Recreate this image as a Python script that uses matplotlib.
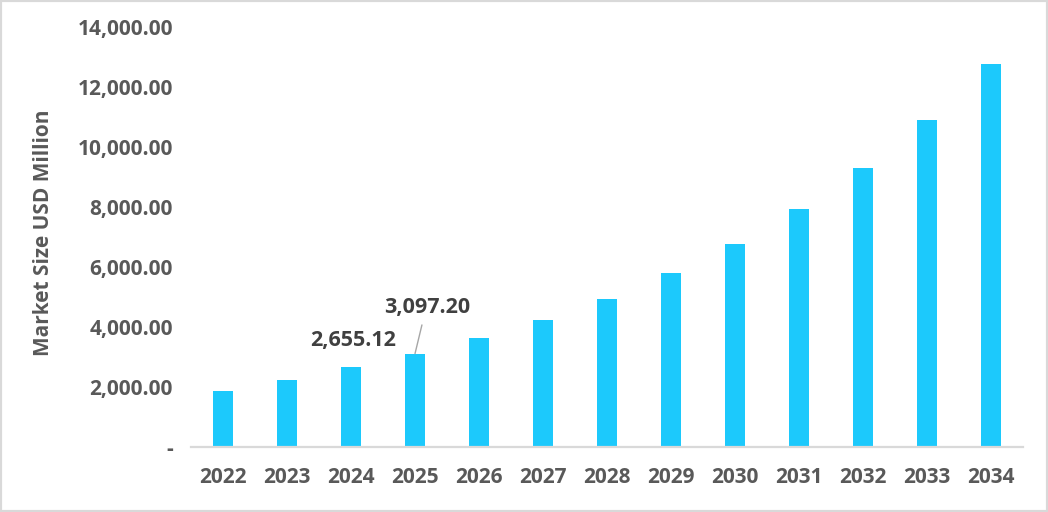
import matplotlib
matplotlib.use('Agg')
import matplotlib.pyplot as plt
from matplotlib.patches import Rectangle
from matplotlib.ticker import FuncFormatter

years = ['2022', '2023', '2024', '2025', '2026', '2027', '2028',
         '2029', '2030', '2031', '2032', '2033', '2034']
market_size = [1867, 2233, 2655.12, 3097.20, 3617, 4217, 4917,
               5783, 6750, 7917, 9283, 10883, 12750]
labeled = {2: '2,655.12', 3: '3,097.20'}   # bar index -> data label

plt.rcParams['font.family'] = ['Open Sans', 'DejaVu Sans']

fig = plt.figure(figsize=(10.48, 5.12), dpi=100)
ax = fig.add_axes([0.1823, 0.1279, 0.7938, 0.8203])

x = range(len(years))
ax.bar(x, market_size, width=0.31, color='#1CC9FC', zorder=2)

ax.set_xlim(-0.5, len(years) - 0.5)
ax.set_ylim(0, 14000)
ax.set_yticks(range(0, 14001, 2000))
ax.yaxis.set_major_formatter(FuncFormatter(lambda v, p: '-' if v == 0 else f'{v:,.2f}'))
ax.set_xticks(list(x))
ax.set_xticklabels(years)

for s in ['top', 'right', 'left']:
    ax.spines[s].set_visible(False)
ax.spines['bottom'].set_color('#d9d9d9')
ax.spines['bottom'].set_linewidth(1.6)
ax.tick_params(axis='both', length=0, colors='#595959')
ax.tick_params(axis='y', pad=13, labelsize=15)
ax.tick_params(axis='x', pad=15, labelsize=15)
for lab in ax.get_xticklabels() + ax.get_yticklabels():
    lab.set_fontweight('bold')

ax.set_ylabel('Market Size USD Million', fontsize=15, fontweight='bold',
              color='#595959')
ax.yaxis.set_label_coords(-0.1645, 0.508)

# data labels
ax.annotate(labeled[2], xy=(2, market_size[2]), xytext=(2, 26),
            textcoords='offset pixels', ha='center', va='center',
            fontsize=15.5, fontweight='bold', color='#404040')
ax.annotate(labeled[3], xy=(3, market_size[3]), xytext=(12, 46),
            textcoords='offset pixels', ha='center', va='center',
            fontsize=15.5, fontweight='bold', color='#404040',
            arrowprops=dict(arrowstyle='-', color='#a6a6a6', lw=1.0,
                            relpos=(0.46, 0.0), shrinkA=3, shrinkB=0))

fig.add_artist(Rectangle((0, 0), 1, 1, transform=fig.transFigure,
                         fill=False, ec='#d9d9d9', lw=3))

fig.savefig('out.png', dpi=100)
